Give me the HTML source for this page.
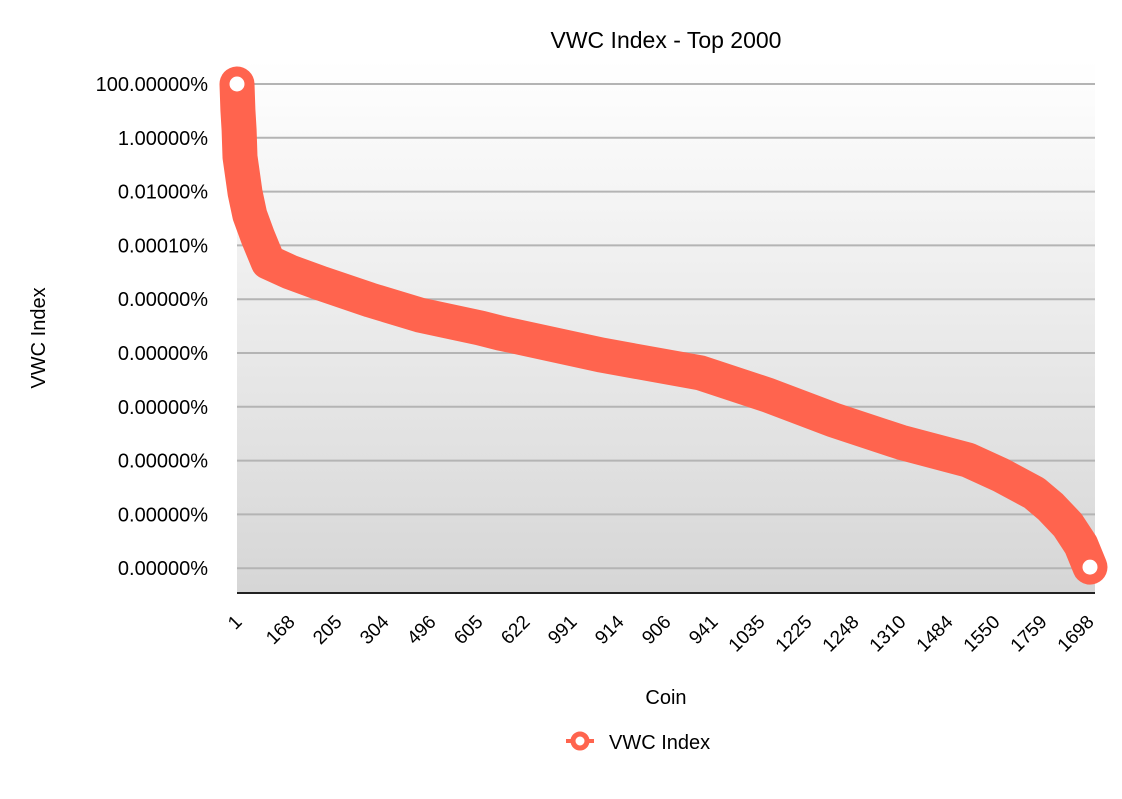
<!DOCTYPE html>
<html><head><meta charset="utf-8"><style>
html,body{margin:0;padding:0;background:#fff;}
svg text{font-family:"Liberation Sans",Helvetica,Arial,sans-serif;fill:#000;}
</style></head><body>
<svg id="chart" width="1122" height="794" viewBox="0 0 1122 794">
<defs>
<linearGradient id="bg" x1="0" y1="0" x2="0" y2="1">
<stop offset="0" stop-color="#ffffff"/><stop offset="1" stop-color="#d6d6d6"/>
</linearGradient>
</defs>
<rect x="237" y="60" width="858" height="533" fill="url(#bg)"/>
<g id="grid"></g>
<line x1="237" y1="593" x2="1095" y2="593" stroke="#222" stroke-width="2"/>
<g id="ylabels"></g>
<g id="xlabels"></g>
<g id="series"></g>
<text x="666" y="48" font-size="23" text-anchor="middle">VWC Index - Top 2000</text>
<text transform="translate(45,338) rotate(-90)" font-size="20" text-anchor="middle">VWC Index</text>
<text x="666" y="704" font-size="20" text-anchor="middle">Coin</text>
<g>
<line x1="566" y1="741" x2="594" y2="741" stroke="#ff644e" stroke-width="4"/>
<circle cx="580" cy="741" r="7" fill="#fff" stroke="#ff644e" stroke-width="5"/>
<text x="609" y="749" font-size="20">VWC Index</text>
</g>
</svg>
<script>
const ranks=[1,3,6,8,20,31,50,74,125,196,313,430,571,618,853,1087,1244,1399,1557,1714,1791,1869,1908,1948,1979,2000];
const logPct=[2,1.03,0.29,-0.71,-2.05,-2.87,-3.69,-4.62,-4.99,-5.4,-6.03,-6.59,-7.07,-7.26,-8.07,-8.74,-9.56,-10.49,-11.32,-11.98,-12.54,-13.2,-13.72,-14.39,-15.14,-15.96];
const yTickLogs=[2,0,-2,-4,-6,-8,-10,-12,-14,-16];
const yTickLabels=["100.00000%","1.00000%","0.01000%","0.00010%","0.00000%","0.00000%","0.00000%","0.00000%","0.00000%","0.00000%"];
const xLabels=["1","168","205","304","496","605","622","991","914","906","941","1035","1225","1248","1310","1484","1550","1759","1698"];
const NS="http://www.w3.org/2000/svg";
const X=r=>237+(r-1)/1999*853;
const Y=l=>84+(2-l)*26.9;
function mk(t,a,p){const e=document.createElementNS(NS,t);for(const k in a)e.setAttribute(k,a[k]);p.appendChild(e);return e;}
const grid=document.getElementById('grid'),yl=document.getElementById('ylabels'),xl=document.getElementById('xlabels'),se=document.getElementById('series');
yTickLogs.forEach((l,i)=>{
 const g=mk('line',{x1:237,x2:1095,y1:Y(l),y2:Y(l),stroke:'#b4b4b4','stroke-width':2},grid);
 
 
 const t=mk('text',{x:208,y:Y(l)+7,'font-size':20,'text-anchor':'end'},yl);
 t.textContent=yTickLabels[i];
 
 
});
xLabels.forEach((s,k)=>{
 const x=k===0?243:296+(k-1)*47, y=623;
 const t=mk('text',{x:x,y:y,'font-size':19,'text-anchor':'end',transform:`rotate(-45 ${x} ${y})`},xl);
 t.textContent=s;
 
 
});
const d=ranks.map((r,i)=>(i?'L':'M')+X(r).toFixed(1)+' '+Y(logPct[i]).toFixed(1)).join(' ');
const p=mk('path',{d:d,fill:'none',stroke:'#ff644e','stroke-width':35,'stroke-linejoin':'round','stroke-linecap':'round'},se);


[0,ranks.length-1].forEach(i=>{
 const c=mk('circle',{cx:X(ranks[i]),cy:Y(logPct[i]),r:8,fill:'#fff',stroke:'#ff644e','stroke-width':1},se);
 
 
});
</script>
</body></html>
